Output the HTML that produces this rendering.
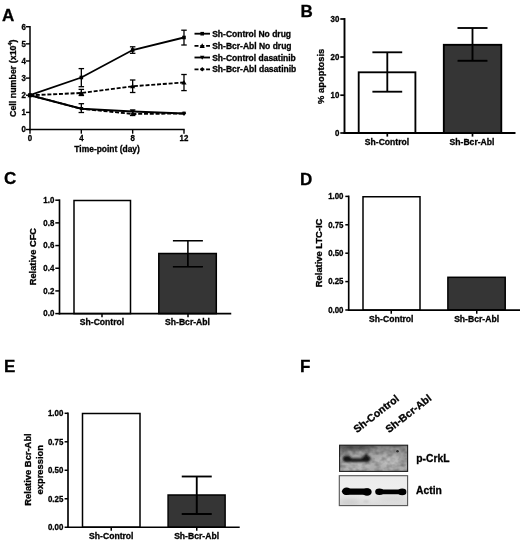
<!DOCTYPE html>
<html><head><meta charset="utf-8"><title>Figure</title>
<style>
html,body{margin:0;padding:0;background:#fff;}
body{width:520px;height:541px;overflow:hidden;font-family:"Liberation Sans",sans-serif;}
svg{display:block;}
svg text{font-family:"Liberation Sans",sans-serif;font-weight:bold;fill:#000;stroke:#000;stroke-width:0.3px;}
</style></head><body>
<svg width="520" height="541" viewBox="0 0 520 541">
<defs><filter id="soft" x="0" y="0" width="520" height="541" filterUnits="userSpaceOnUse"><feGaussianBlur stdDeviation="0.38"/></filter></defs>
<rect width="520" height="541" fill="#fff"/>
<g filter="url(#soft)">
<text x="2.0" y="20.6" font-size="17.0" text-anchor="start" >A</text>
<text x="300.6" y="16.9" font-size="17.0" text-anchor="start" >B</text>
<text x="4.1" y="184.3" font-size="17.0" text-anchor="start" >C</text>
<text x="300.0" y="184.5" font-size="17.0" text-anchor="start" >D</text>
<text x="4.1" y="371.8" font-size="17.0" text-anchor="start" >E</text>
<text x="299.9" y="371.8" font-size="17.0" text-anchor="start" >F</text>
<line x1="30" y1="26.02" x2="30" y2="130.2" stroke="#000" stroke-width="1.5"/>
<line x1="29.3" y1="129.5" x2="184.69" y2="129.5" stroke="#000" stroke-width="1.5"/>
<line x1="26" y1="129.5" x2="30" y2="129.5" stroke="#000" stroke-width="1.4"/>
<text transform="translate(25.8 132.4) scale(0.94 1)" font-size="8.4" text-anchor="end" >0</text>
<line x1="26" y1="112.37" x2="30" y2="112.37" stroke="#000" stroke-width="1.4"/>
<text transform="translate(25.8 115.27000000000001) scale(0.94 1)" font-size="8.4" text-anchor="end" >1</text>
<line x1="26" y1="95.24000000000001" x2="30" y2="95.24000000000001" stroke="#000" stroke-width="1.4"/>
<text transform="translate(25.8 98.14000000000001) scale(0.94 1)" font-size="8.4" text-anchor="end" >2</text>
<line x1="26" y1="78.11" x2="30" y2="78.11" stroke="#000" stroke-width="1.4"/>
<text transform="translate(25.8 81.01) scale(0.94 1)" font-size="8.4" text-anchor="end" >3</text>
<line x1="26" y1="60.980000000000004" x2="30" y2="60.980000000000004" stroke="#000" stroke-width="1.4"/>
<text transform="translate(25.8 63.88) scale(0.94 1)" font-size="8.4" text-anchor="end" >4</text>
<line x1="26" y1="43.85000000000001" x2="30" y2="43.85000000000001" stroke="#000" stroke-width="1.4"/>
<text transform="translate(25.8 46.75000000000001) scale(0.94 1)" font-size="8.4" text-anchor="end" >5</text>
<line x1="26" y1="26.72" x2="30" y2="26.72" stroke="#000" stroke-width="1.4"/>
<text transform="translate(25.8 29.619999999999997) scale(0.94 1)" font-size="8.4" text-anchor="end" >6</text>
<line x1="30.0" y1="129.5" x2="30.0" y2="133.7" stroke="#000" stroke-width="1.4"/>
<text transform="translate(30.0 141.2) scale(0.94 1)" font-size="8.4" text-anchor="middle" >0</text>
<line x1="81.33" y1="129.5" x2="81.33" y2="133.7" stroke="#000" stroke-width="1.4"/>
<text transform="translate(81.33 141.2) scale(0.94 1)" font-size="8.4" text-anchor="middle" >4</text>
<line x1="132.66" y1="129.5" x2="132.66" y2="133.7" stroke="#000" stroke-width="1.4"/>
<text transform="translate(132.66 141.2) scale(0.94 1)" font-size="8.4" text-anchor="middle" >8</text>
<line x1="183.99" y1="129.5" x2="183.99" y2="133.7" stroke="#000" stroke-width="1.4"/>
<text transform="translate(183.99 141.2) scale(0.94 1)" font-size="8.4" text-anchor="middle" >12</text>
<text x="107.1" y="152.1" font-size="8.45" text-anchor="middle" >Time-point (day)</text>
<text x="16.0" y="78.2" font-size="8.9" text-anchor="middle" transform="rotate(-90 16.0 78.2)" >Cell number (x10<tspan font-size="5.5" dy="-4">4</tspan><tspan dy="4">)</tspan></text>
<polyline points="30.00,95.24 81.33,77.50 132.66,50.00 183.99,37.50" fill="none" stroke="#000" stroke-width="1.85"/>
<polyline points="30.00,95.24 81.33,93.00 132.66,86.25 183.99,82.50" fill="none" stroke="#000" stroke-width="1.85" stroke-dasharray="4 1.8"/>
<polyline points="30.00,95.24 81.33,108.75 132.66,111.50 183.99,113.50" fill="none" stroke="#000" stroke-width="1.85"/>
<polyline points="30.00,95.24 81.33,108.75 132.66,114.00 183.99,113.50" fill="none" stroke="#000" stroke-width="1.85" stroke-dasharray="4 1.8"/>
<line x1="81.33" y1="68.6" x2="81.33" y2="86.7" stroke="#000" stroke-width="1.3"/>
<line x1="78.58" y1="68.6" x2="84.08" y2="68.6" stroke="#000" stroke-width="1.3"/>
<line x1="78.58" y1="86.7" x2="84.08" y2="86.7" stroke="#000" stroke-width="1.3"/>
<line x1="132.66" y1="46.8" x2="132.66" y2="53.3" stroke="#000" stroke-width="1.3"/>
<line x1="129.91" y1="46.8" x2="135.41" y2="46.8" stroke="#000" stroke-width="1.3"/>
<line x1="129.91" y1="53.3" x2="135.41" y2="53.3" stroke="#000" stroke-width="1.3"/>
<line x1="183.99" y1="30.2" x2="183.99" y2="45" stroke="#000" stroke-width="1.3"/>
<line x1="181.24" y1="30.2" x2="186.74" y2="30.2" stroke="#000" stroke-width="1.3"/>
<line x1="181.24" y1="45" x2="186.74" y2="45" stroke="#000" stroke-width="1.3"/>
<line x1="81.33" y1="89.4" x2="81.33" y2="95.5" stroke="#000" stroke-width="1.3"/>
<line x1="78.58" y1="89.4" x2="84.08" y2="89.4" stroke="#000" stroke-width="1.3"/>
<line x1="78.58" y1="95.5" x2="84.08" y2="95.5" stroke="#000" stroke-width="1.3"/>
<line x1="132.66" y1="80" x2="132.66" y2="92.5" stroke="#000" stroke-width="1.3"/>
<line x1="129.91" y1="80" x2="135.41" y2="80" stroke="#000" stroke-width="1.3"/>
<line x1="129.91" y1="92.5" x2="135.41" y2="92.5" stroke="#000" stroke-width="1.3"/>
<line x1="183.99" y1="74.5" x2="183.99" y2="90.6" stroke="#000" stroke-width="1.3"/>
<line x1="181.24" y1="74.5" x2="186.74" y2="74.5" stroke="#000" stroke-width="1.3"/>
<line x1="181.24" y1="90.6" x2="186.74" y2="90.6" stroke="#000" stroke-width="1.3"/>
<line x1="81.33" y1="103.7" x2="81.33" y2="112.5" stroke="#000" stroke-width="1.3"/>
<line x1="78.58" y1="103.7" x2="84.08" y2="103.7" stroke="#000" stroke-width="1.3"/>
<line x1="78.58" y1="112.5" x2="84.08" y2="112.5" stroke="#000" stroke-width="1.3"/>
<line x1="132.66" y1="110" x2="132.66" y2="115.5" stroke="#000" stroke-width="1.3"/>
<line x1="129.91" y1="110" x2="135.41" y2="110" stroke="#000" stroke-width="1.3"/>
<line x1="129.91" y1="115.5" x2="135.41" y2="115.5" stroke="#000" stroke-width="1.3"/>
<rect x="28.2" y="93.44000000000001" width="3.6" height="3.6" fill="#000"/>
<rect x="79.53" y="75.7" width="3.6" height="3.6" fill="#000"/>
<rect x="130.85999999999999" y="48.2" width="3.6" height="3.6" fill="#000"/>
<rect x="182.19" y="35.7" width="3.6" height="3.6" fill="#000"/>
<polygon points="30.0,92.64000000000001 32.6,97.32000000000001 27.4,97.32000000000001" fill="#000"/>
<polygon points="81.33,90.4 83.92999999999999,95.08 78.73,95.08" fill="#000"/>
<polygon points="132.66,83.65 135.26,88.33 130.06,88.33" fill="#000"/>
<polygon points="183.99,79.9 186.59,84.58 181.39000000000001,84.58" fill="#000"/>
<polygon points="30.0,97.44000000000001 32.2,93.48 27.8,93.48" fill="#000"/>
<polygon points="81.33,110.95 83.53,106.99 79.13,106.99" fill="#000"/>
<polygon points="132.66,113.7 134.85999999999999,109.74 130.46,109.74" fill="#000"/>
<polygon points="183.99,115.7 186.19,111.74 181.79000000000002,111.74" fill="#000"/>
<polygon points="30.0,93.04 32.2,95.24000000000001 30.0,97.44000000000001 27.8,95.24000000000001" fill="#000"/>
<polygon points="81.33,106.55 83.53,108.75 81.33,110.95 79.13,108.75" fill="#000"/>
<polygon points="132.66,111.8 134.85999999999999,114.0 132.66,116.2 130.46,114.0" fill="#000"/>
<polygon points="183.99,111.3 186.19,113.5 183.99,115.7 181.79000000000002,113.5" fill="#000"/>
<line x1="194.5" y1="33.7" x2="210" y2="33.7" stroke="#000" stroke-width="1.85"/>
<rect x="200.39999999999998" y="31.900000000000002" width="3.6" height="3.6" fill="#000"/>
<text x="212.2" y="36.75" font-size="8.5" text-anchor="start" >Sh-Control No drug</text>
<line x1="194.5" y1="45.8" x2="210" y2="45.8" stroke="#000" stroke-width="1.85" stroke-dasharray="4 1.8"/>
<polygon points="202.2,43.199999999999996 204.79999999999998,47.879999999999995 199.6,47.879999999999995" fill="#000"/>
<text x="212.2" y="48.849999999999994" font-size="8.5" text-anchor="start" >Sh-Bcr-Abl No drug</text>
<line x1="194.5" y1="57.5" x2="210" y2="57.5" stroke="#000" stroke-width="1.85"/>
<polygon points="202.2,59.7 204.39999999999998,55.74 200.0,55.74" fill="#000"/>
<text x="212.2" y="60.55" font-size="8.5" text-anchor="start" >Sh-Control dasatinib</text>
<line x1="194.5" y1="69.3" x2="210" y2="69.3" stroke="#000" stroke-width="1.85" stroke-dasharray="4 1.8"/>
<polygon points="202.2,67.1 204.39999999999998,69.3 202.2,71.5 200.0,69.3" fill="#000"/>
<text x="212.2" y="72.35" font-size="8.5" text-anchor="start" >Sh-Bcr-Abl dasatinib</text>
<rect x="358.7" y="72.3" width="56.69999999999999" height="60.7" fill="#fff" stroke="#000" stroke-width="1.85"/>
<rect x="443.8" y="44.8" width="57.5" height="88.2" fill="#353535" stroke="#000" stroke-width="1.85"/>
<line x1="344.5" y1="18.05" x2="344.5" y2="133.95" stroke="#000" stroke-width="1.9"/>
<line x1="343.55" y1="133.0" x2="515.5" y2="133.0" stroke="#000" stroke-width="1.9"/>
<line x1="340.3" y1="19.0" x2="344.5" y2="19.0" stroke="#000" stroke-width="1.7"/>
<text transform="translate(339.40000000000003 21.75) scale(0.94 1)" font-size="8.4" text-anchor="end" >30</text>
<line x1="340.3" y1="57.0" x2="344.5" y2="57.0" stroke="#000" stroke-width="1.7"/>
<text transform="translate(339.40000000000003 59.75) scale(0.94 1)" font-size="8.4" text-anchor="end" >20</text>
<line x1="340.3" y1="95.2" x2="344.5" y2="95.2" stroke="#000" stroke-width="1.7"/>
<text transform="translate(339.40000000000003 97.95) scale(0.94 1)" font-size="8.4" text-anchor="end" >10</text>
<line x1="340.3" y1="133.0" x2="344.5" y2="133.0" stroke="#000" stroke-width="1.7"/>
<text transform="translate(339.40000000000003 135.75) scale(0.94 1)" font-size="8.4" text-anchor="end" >0</text>
<line x1="387.3" y1="133.0" x2="387.3" y2="136.6" stroke="#000" stroke-width="1.7"/>
<line x1="472.5" y1="133.0" x2="472.5" y2="136.6" stroke="#000" stroke-width="1.7"/>
<text x="387" y="144.9" font-size="8.6" text-anchor="middle" >Sh-Control</text>
<text x="472" y="144.9" font-size="8.6" text-anchor="middle" >Sh-Bcr-Abl</text>
<line x1="387.3" y1="52.3" x2="387.3" y2="91.7" stroke="#000" stroke-width="1.85"/>
<line x1="372.40000000000003" y1="52.3" x2="402.2" y2="52.3" stroke="#000" stroke-width="1.85"/>
<line x1="372.40000000000003" y1="91.7" x2="402.2" y2="91.7" stroke="#000" stroke-width="1.85"/>
<line x1="472.5" y1="28" x2="472.5" y2="60.75" stroke="#000" stroke-width="1.85"/>
<line x1="457.5" y1="28" x2="487.5" y2="28" stroke="#000" stroke-width="1.85"/>
<line x1="457.5" y1="60.75" x2="487.5" y2="60.75" stroke="#000" stroke-width="1.85"/>
<text x="324.3" y="76.3" font-size="9.4" text-anchor="middle" transform="rotate(-90 324.3 76.3)" >% apoptosis</text>
<rect x="74" y="200.5" width="56.5" height="113.10000000000002" fill="#fff" stroke="#000" stroke-width="1.5"/>
<rect x="158.8" y="253.5" width="57.5" height="60.10000000000002" fill="#353535" stroke="#000" stroke-width="1.5"/>
<line x1="59.5" y1="199.375" x2="59.5" y2="314.425" stroke="#000" stroke-width="1.65"/>
<line x1="58.675" y1="313.6" x2="231.25" y2="313.6" stroke="#000" stroke-width="1.65"/>
<line x1="55.3" y1="200.2" x2="59.5" y2="200.2" stroke="#000" stroke-width="1.5"/>
<text transform="translate(54.3 202.95) scale(0.94 1)" font-size="8.4" text-anchor="end" >1.0</text>
<line x1="55.3" y1="222.88" x2="59.5" y2="222.88" stroke="#000" stroke-width="1.5"/>
<text transform="translate(54.3 225.63) scale(0.94 1)" font-size="8.4" text-anchor="end" >0.8</text>
<line x1="55.3" y1="245.56" x2="59.5" y2="245.56" stroke="#000" stroke-width="1.5"/>
<text transform="translate(54.3 248.31) scale(0.94 1)" font-size="8.4" text-anchor="end" >0.6</text>
<line x1="55.3" y1="268.24" x2="59.5" y2="268.24" stroke="#000" stroke-width="1.5"/>
<text transform="translate(54.3 270.99) scale(0.94 1)" font-size="8.4" text-anchor="end" >0.4</text>
<line x1="55.3" y1="290.91999999999996" x2="59.5" y2="290.91999999999996" stroke="#000" stroke-width="1.5"/>
<text transform="translate(54.3 293.66999999999996) scale(0.94 1)" font-size="8.4" text-anchor="end" >0.2</text>
<line x1="55.3" y1="313.6" x2="59.5" y2="313.6" stroke="#000" stroke-width="1.5"/>
<text transform="translate(54.3 316.35) scale(0.94 1)" font-size="8.4" text-anchor="end" >0.0</text>
<line x1="102" y1="313.6" x2="102" y2="317.20000000000005" stroke="#000" stroke-width="1.5"/>
<line x1="188" y1="313.6" x2="188" y2="317.20000000000005" stroke="#000" stroke-width="1.5"/>
<text x="102" y="325.1" font-size="8.6" text-anchor="middle" >Sh-Control</text>
<text x="187.5" y="325.1" font-size="8.6" text-anchor="middle" >Sh-Bcr-Abl</text>
<line x1="187.9" y1="240.75" x2="187.9" y2="266.75" stroke="#000" stroke-width="1.55"/>
<line x1="172.9" y1="240.75" x2="202.9" y2="240.75" stroke="#000" stroke-width="1.55"/>
<line x1="172.9" y1="266.75" x2="202.9" y2="266.75" stroke="#000" stroke-width="1.55"/>
<text x="36.2" y="256.6" font-size="9.3" text-anchor="middle" transform="rotate(-90 36.2 256.6)" >Relative CFC</text>
<rect x="363" y="196.75" width="57" height="113.35000000000002" fill="#fff" stroke="#000" stroke-width="1.5"/>
<rect x="447.9" y="277.3" width="57.30000000000001" height="32.80000000000001" fill="#353535" stroke="#000" stroke-width="1.5"/>
<line x1="348.7" y1="195.57500000000002" x2="348.7" y2="310.925" stroke="#000" stroke-width="1.65"/>
<line x1="347.875" y1="310.1" x2="520" y2="310.1" stroke="#000" stroke-width="1.65"/>
<line x1="345.3" y1="196.4" x2="348.7" y2="196.4" stroke="#000" stroke-width="1.5"/>
<text transform="translate(343.50000000000006 199.15) scale(0.94 1)" font-size="8.4" text-anchor="end" >1.00</text>
<line x1="345.3" y1="224.8" x2="348.7" y2="224.8" stroke="#000" stroke-width="1.5"/>
<text transform="translate(343.50000000000006 227.55) scale(0.94 1)" font-size="8.4" text-anchor="end" >0.75</text>
<line x1="345.3" y1="253.2" x2="348.7" y2="253.2" stroke="#000" stroke-width="1.5"/>
<text transform="translate(343.50000000000006 255.95) scale(0.94 1)" font-size="8.4" text-anchor="end" >0.50</text>
<line x1="345.3" y1="281.6" x2="348.7" y2="281.6" stroke="#000" stroke-width="1.5"/>
<text transform="translate(343.50000000000006 284.35) scale(0.94 1)" font-size="8.4" text-anchor="end" >0.25</text>
<line x1="345.3" y1="310.0" x2="348.7" y2="310.0" stroke="#000" stroke-width="1.5"/>
<text transform="translate(343.50000000000006 312.75) scale(0.94 1)" font-size="8.4" text-anchor="end" >0.00</text>
<line x1="391.25" y1="310.1" x2="391.25" y2="313.70000000000005" stroke="#000" stroke-width="1.5"/>
<line x1="476.75" y1="310.1" x2="476.75" y2="313.70000000000005" stroke="#000" stroke-width="1.5"/>
<text x="391.3" y="321.8" font-size="8.6" text-anchor="middle" >Sh-Control</text>
<text x="476.6" y="321.8" font-size="8.6" text-anchor="middle" >Sh-Bcr-Abl</text>
<text x="322.2" y="252.9" font-size="9.4" text-anchor="middle" transform="rotate(-90 322.2 252.9)" >Relative LTC-IC</text>
<rect x="82.5" y="413.5" width="57.5" height="113.70000000000005" fill="#fff" stroke="#000" stroke-width="1.5"/>
<rect x="168.1" y="495.0" width="57.0" height="32.200000000000045" fill="#353535" stroke="#000" stroke-width="1.5"/>
<line x1="68.0" y1="412.475" x2="68.0" y2="528.0250000000001" stroke="#000" stroke-width="1.65"/>
<line x1="67.175" y1="527.2" x2="239.7" y2="527.2" stroke="#000" stroke-width="1.65"/>
<line x1="64.6" y1="413.3" x2="68.0" y2="413.3" stroke="#000" stroke-width="1.5"/>
<text transform="translate(63.3 416.05) scale(0.94 1)" font-size="8.4" text-anchor="end" >1.00</text>
<line x1="64.6" y1="441.79" x2="68.0" y2="441.79" stroke="#000" stroke-width="1.5"/>
<text transform="translate(63.3 444.54) scale(0.94 1)" font-size="8.4" text-anchor="end" >0.75</text>
<line x1="64.6" y1="470.28000000000003" x2="68.0" y2="470.28000000000003" stroke="#000" stroke-width="1.5"/>
<text transform="translate(63.3 473.03000000000003) scale(0.94 1)" font-size="8.4" text-anchor="end" >0.50</text>
<line x1="64.6" y1="498.77" x2="68.0" y2="498.77" stroke="#000" stroke-width="1.5"/>
<text transform="translate(63.3 501.52) scale(0.94 1)" font-size="8.4" text-anchor="end" >0.25</text>
<line x1="64.6" y1="527.26" x2="68.0" y2="527.26" stroke="#000" stroke-width="1.5"/>
<text transform="translate(63.3 530.01) scale(0.94 1)" font-size="8.4" text-anchor="end" >0.00</text>
<line x1="111.25" y1="527.2" x2="111.25" y2="530.8000000000001" stroke="#000" stroke-width="1.5"/>
<line x1="196.75" y1="527.2" x2="196.75" y2="530.8000000000001" stroke="#000" stroke-width="1.5"/>
<text x="111.3" y="539.0" font-size="8.6" text-anchor="middle" >Sh-Control</text>
<text x="196.6" y="539.0" font-size="8.6" text-anchor="middle" >Sh-Bcr-Abl</text>
<line x1="196.75" y1="476.5" x2="196.75" y2="514" stroke="#000" stroke-width="1.85"/>
<line x1="181.75" y1="476.5" x2="211.75" y2="476.5" stroke="#000" stroke-width="1.85"/>
<line x1="181.75" y1="514" x2="211.75" y2="514" stroke="#000" stroke-width="1.85"/>
<text x="31.0" y="469.5" font-size="9.4" text-anchor="middle" transform="rotate(-90 31.0 469.5)" >Relative Bcr-Abl</text>
<text x="43.2" y="469.7" font-size="9.4" text-anchor="middle" transform="rotate(-90 43.2 469.7)" >expression</text>
<defs>
<filter id="bl05" x="-30%" y="-80%" width="160%" height="260%"><feGaussianBlur stdDeviation="0.55"/></filter>
<filter id="bl07" x="-30%" y="-80%" width="160%" height="260%"><feGaussianBlur stdDeviation="0.75"/></filter>
<filter id="bl1" x="-30%" y="-80%" width="160%" height="260%"><feGaussianBlur stdDeviation="0.9"/></filter>
<filter id="bl2" x="-50%" y="-100%" width="200%" height="300%"><feGaussianBlur stdDeviation="2"/></filter>
<filter id="bl3" x="-50%" y="-100%" width="200%" height="300%"><feGaussianBlur stdDeviation="3.2"/></filter>
<filter id="mott" x="0" y="0" width="100%" height="100%">
  <feTurbulence type="fractalNoise" baseFrequency="0.16 0.2" numOctaves="2" seed="7" result="n"/>
  <feColorMatrix in="n" type="matrix" values="0 0 0 0 0  0 0 0 0 0  0 0 0 0 0  1.6 0 0 0 -0.62"/>
</filter>
<linearGradient id="g1" x1="0" y1="0" x2="0" y2="1">
<stop offset="0" stop-color="#8a8a8a"/><stop offset="0.3" stop-color="#9e9e9e"/><stop offset="0.6" stop-color="#b2b2b2"/><stop offset="1" stop-color="#a9a9a9"/></linearGradient>
<linearGradient id="g2" x1="0" y1="0" x2="0" y2="1">
<stop offset="0" stop-color="#ececec"/><stop offset="0.45" stop-color="#eeeeee"/><stop offset="0.75" stop-color="#e4e4e4"/><stop offset="1" stop-color="#dadada"/></linearGradient>
<clipPath id="c1"><rect x="339.6" y="445.2" width="68" height="26.2"/></clipPath>
<clipPath id="c2"><rect x="339.3" y="475.7" width="68.3" height="29.9"/></clipPath>
</defs>
<rect x="339.6" y="445.2" width="68" height="26.2" fill="url(#g1)"/>
<g clip-path="url(#c1)">
<ellipse cx="355" cy="446.8" rx="19" ry="3.6" fill="#4a4a4a" opacity="0.9" filter="url(#bl2)"/>
<ellipse cx="374" cy="445.5" rx="36" ry="1.6" fill="#555" opacity="0.7" filter="url(#bl1)"/>
<ellipse cx="345" cy="450.5" rx="4" ry="3" fill="#666" opacity="0.7" filter="url(#bl2)"/>
<ellipse cx="358" cy="452.5" rx="3.6" ry="2" fill="#bcbcbc" opacity="0.75" filter="url(#bl1)"/>
<ellipse cx="349.5" cy="452.6" rx="2.2" ry="1.4" fill="#b4b4b4" opacity="0.6" filter="url(#bl1)"/>
<ellipse cx="356" cy="466.5" rx="15" ry="3" fill="#bdbdbd" opacity="0.9" filter="url(#bl2)"/>
<ellipse cx="389" cy="460.5" rx="10" ry="4.5" fill="#c6c6c6" opacity="0.85" filter="url(#bl3)"/>
<ellipse cx="383" cy="449" rx="12" ry="2" fill="#8e8e8e" opacity="0.6" filter="url(#bl2)"/>
<ellipse cx="404.5" cy="460" rx="3" ry="4.5" fill="#7e7e7e" opacity="0.65" filter="url(#bl2)"/>
<rect x="339.6" y="445.2" width="68" height="26.2" fill="#555" opacity="0.38" filter="url(#mott)"/>
<g filter="url(#bl1)" fill="#161616">
<rect x="343.5" y="458.2" width="26.5" height="3.7" rx="1.8"/>
<ellipse cx="346.9" cy="458.7" rx="4.3" ry="3.2"/>
<ellipse cx="366.3" cy="458.8" rx="4.3" ry="3.1"/>
<ellipse cx="366.1" cy="455.7" rx="1.6" ry="1.9"/>
<ellipse cx="356" cy="460.5" rx="9" ry="1.5"/>
</g>
<ellipse cx="397.5" cy="451.2" rx="1.25" ry="1.2" fill="#2c2c2c" filter="url(#bl05)"/>
</g>
<rect x="339.6" y="445.2" width="68" height="26.2" fill="none" stroke="#1e1e1e" stroke-width="1.1"/>
<rect x="339.3" y="475.7" width="68.3" height="29.9" fill="url(#g2)"/>
<g clip-path="url(#c2)">
<ellipse cx="350" cy="502" rx="10" ry="3" fill="#c8c8c8" opacity="0.8" filter="url(#bl2)"/>
<ellipse cx="366" cy="501.5" rx="3" ry="0.9" fill="#bdbdbd" opacity="0.8" filter="url(#bl1)"/>
<ellipse cx="392" cy="498.5" rx="14" ry="2.5" fill="#d4d4d4" opacity="0.8" filter="url(#bl2)"/>
<g filter="url(#bl07)" fill="#060606">
<rect x="343" y="488.5" width="28" height="6.2" rx="3.0"/>
<ellipse cx="346.6" cy="491.3" rx="4.7" ry="3.7"/>
<ellipse cx="367.0" cy="492.0" rx="4.7" ry="3.85"/>
<rect x="376" y="489.5" width="29.8" height="4.7" rx="2.3"/>
<ellipse cx="379.4" cy="491.8" rx="4.2" ry="3.2"/>
<ellipse cx="402.2" cy="491.9" rx="4.2" ry="3.3"/>
</g>
</g>
<rect x="339.3" y="475.7" width="68.3" height="29.9" fill="none" stroke="#555" stroke-width="1.1"/>
<text x="416.3" y="461.6" font-size="10.3" text-anchor="start" >p-CrkL</text>
<text x="416.1" y="494.2" font-size="10.3" text-anchor="start" >Actin</text>
<text x="357" y="433.3" font-size="10.5" text-anchor="start" transform="rotate(-38 357 433.3)" >Sh-Control</text>
<text x="389" y="433.3" font-size="10.5" text-anchor="start" transform="rotate(-38 389 433.3)" >Sh-Bcr-Abl</text>
</g>
</svg>
</body></html>
